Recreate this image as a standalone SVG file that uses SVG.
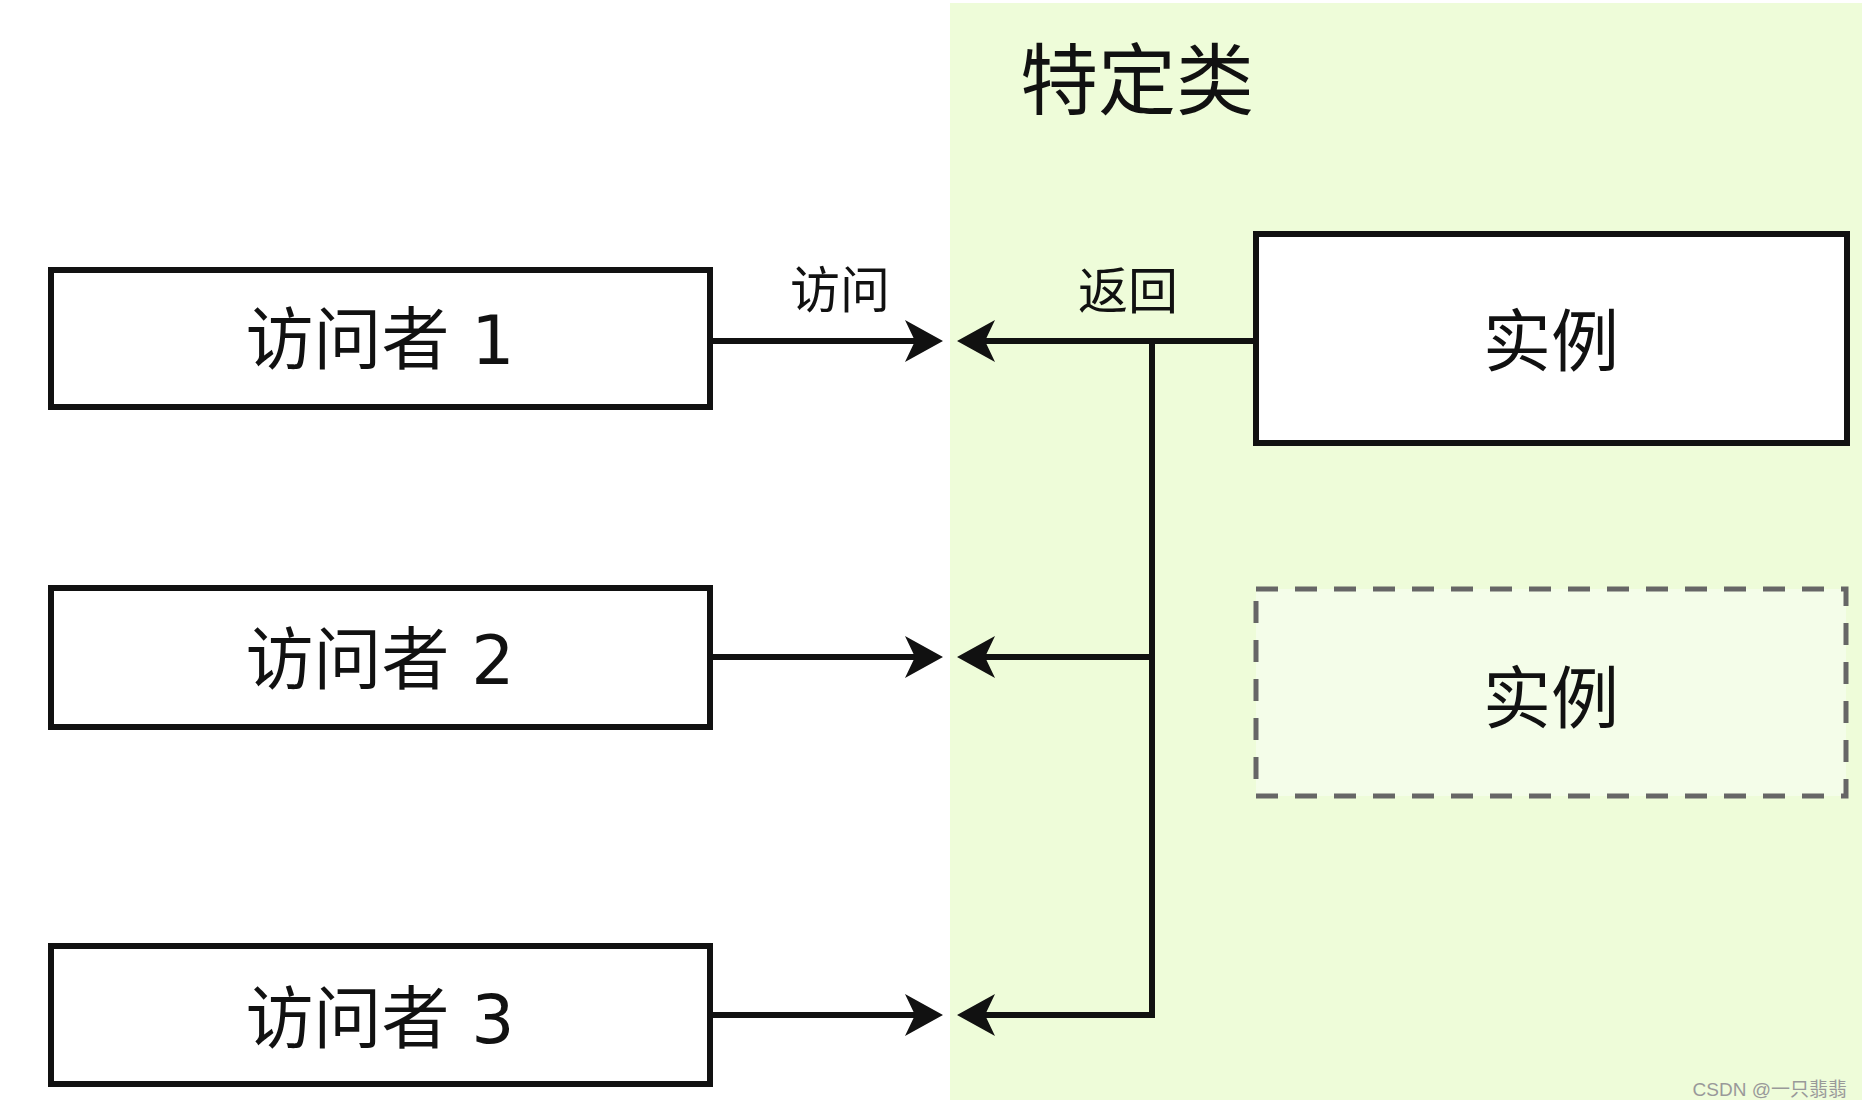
<svg xmlns="http://www.w3.org/2000/svg" width="1862" height="1108" viewBox="0 0 1862 1108">
  <style>
    .box { fill: #ffffff; stroke: #111111; stroke-width: 6; }
    .dbox { fill: #f4fde9; stroke: #666666; stroke-width: 5; stroke-dasharray: 22 17; }
    .lbl { font-family: "DejaVu Sans", "Noto Sans CJK SC", sans-serif; fill: #111111; }
    .conn { fill: none; stroke: #111111; stroke-width: 6; }
  </style>
  <defs>
    <marker id="arr" viewBox="0 0 38 42" refX="10" refY="21" markerWidth="38" markerHeight="42" markerUnits="userSpaceOnUse" orient="auto">
      <path d="M0,0 L38,21 L0,42 L10,21 Z" fill="#111111"/>
    </marker>
  </defs>
  <rect width="1862" height="1108" fill="#ffffff"/>
  <g id="class-region">
    <rect x="950" y="3" width="912" height="1097" fill="#eefcd9"/>
    <text class="lbl" x="1020" y="82" font-size="78" dominant-baseline="central">特定类</text>
  </g>
  <g id="visitor1">
    <rect class="box" x="51" y="270" width="659" height="137"/>
    <text class="lbl" x="380" y="340" font-size="68" text-anchor="middle" dominant-baseline="central">访问者 1</text>
  </g>
  <g id="visitor2">
    <rect class="box" x="51" y="588" width="659" height="139"/>
    <text class="lbl" x="380" y="660" font-size="68" text-anchor="middle" dominant-baseline="central">访问者 2</text>
  </g>
  <g id="visitor3">
    <rect class="box" x="51" y="946" width="659" height="138"/>
    <text class="lbl" x="380" y="1019" font-size="68" text-anchor="middle" dominant-baseline="central">访问者 3</text>
  </g>
  <g id="instance1">
    <rect class="box" x="1256" y="234" width="591" height="209"/>
    <text class="lbl" x="1551" y="342" font-size="68" text-anchor="middle" dominant-baseline="central">实例</text>
  </g>
  <g id="instance2">
    <rect class="dbox" x="1256" y="589" width="590" height="207"/>
    <text class="lbl" x="1551" y="699" font-size="68" text-anchor="middle" dominant-baseline="central">实例</text>
  </g>
  <g id="connectors">
    <path class="conn" d="M710,341 L915,341" marker-end="url(#arr)"/>
    <path class="conn" d="M710,657 L915,657" marker-end="url(#arr)"/>
    <path class="conn" d="M710,1015 L915,1015" marker-end="url(#arr)"/>
    <path class="conn" d="M1256,341 L985,341" marker-end="url(#arr)"/>
    <path class="conn" d="M1152,341 L1152,1015 L985,1015" marker-end="url(#arr)"/>
    <path class="conn" d="M1152,657 L985,657" marker-end="url(#arr)"/>
    <text class="lbl" x="840" y="291" font-size="50" text-anchor="middle" dominant-baseline="central">访问</text>
    <text class="lbl" x="1128" y="292" font-size="50" text-anchor="middle" dominant-baseline="central">返回</text>
  </g>
  <text x="1847" y="1096" font-family="Liberation Sans, Noto Sans CJK SC, sans-serif" font-size="19" fill="#999999" text-anchor="end">CSDN @一只翡翡</text>
</svg>
